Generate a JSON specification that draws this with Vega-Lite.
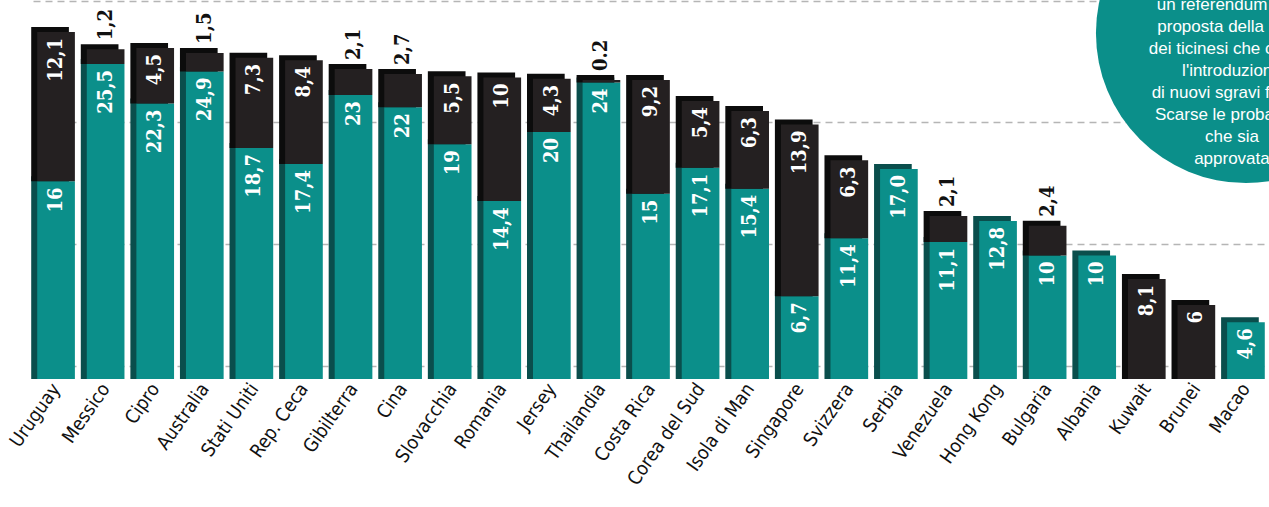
{
  "$schema": "https://vega.github.io/schema/vega-lite/v6.json",
  "width": 1269,
  "height": 378,
  "autosize": "none",
  "padding": {"left": 0, "right": 0, "top": 1, "bottom": 128},
  "background": "white",
  "config": {"view": {"stroke": null}},
  "datasets": {
    "bars": [
      {"country": "Uruguay", "part": "a", "value": 16, "label": "16"},
      {"country": "Uruguay", "part": "b", "value": 12.1, "label": "12,1"},
      {"country": "Messico", "part": "a", "value": 25.5, "label": "25,5"},
      {"country": "Messico", "part": "b", "value": 1.2, "label": "1,2"},
      {"country": "Cipro", "part": "a", "value": 22.3, "label": "22,3"},
      {"country": "Cipro", "part": "b", "value": 4.5, "label": "4,5"},
      {"country": "Australia", "part": "a", "value": 24.9, "label": "24,9"},
      {"country": "Australia", "part": "b", "value": 1.5, "label": "1,5"},
      {"country": "Stati Uniti", "part": "a", "value": 18.7, "label": "18,7"},
      {"country": "Stati Uniti", "part": "b", "value": 7.3, "label": "7,3"},
      {"country": "Rep. Ceca", "part": "a", "value": 17.4, "label": "17,4"},
      {"country": "Rep. Ceca", "part": "b", "value": 8.4, "label": "8,4"},
      {"country": "Gibilterra", "part": "a", "value": 23, "label": "23"},
      {"country": "Gibilterra", "part": "b", "value": 2.1, "label": "2,1"},
      {"country": "Cina", "part": "a", "value": 22, "label": "22"},
      {"country": "Cina", "part": "b", "value": 2.7, "label": "2,7"},
      {"country": "Slovacchia", "part": "a", "value": 19, "label": "19"},
      {"country": "Slovacchia", "part": "b", "value": 5.5, "label": "5,5"},
      {"country": "Romania", "part": "a", "value": 14.4, "label": "14,4"},
      {"country": "Romania", "part": "b", "value": 10, "label": "10"},
      {"country": "Jersey", "part": "a", "value": 20, "label": "20"},
      {"country": "Jersey", "part": "b", "value": 4.3, "label": "4,3"},
      {"country": "Thailandia", "part": "a", "value": 24, "label": "24"},
      {"country": "Thailandia", "part": "b", "value": 0.2, "label": "0.2"},
      {"country": "Costa Rica", "part": "a", "value": 15, "label": "15"},
      {"country": "Costa Rica", "part": "b", "value": 9.2, "label": "9,2"},
      {"country": "Corea del Sud", "part": "a", "value": 17.1, "label": "17,1"},
      {"country": "Corea del Sud", "part": "b", "value": 5.4, "label": "5,4"},
      {"country": "Isola di Man", "part": "a", "value": 15.4, "label": "15,4"},
      {"country": "Isola di Man", "part": "b", "value": 6.3, "label": "6,3"},
      {"country": "Singapore", "part": "a", "value": 6.7, "label": "6,7"},
      {"country": "Singapore", "part": "b", "value": 13.9, "label": "13,9"},
      {"country": "Svizzera", "part": "a", "value": 11.4, "label": "11,4"},
      {"country": "Svizzera", "part": "b", "value": 6.3, "label": "6,3"},
      {"country": "Serbia", "part": "a", "value": 17.0, "label": "17,0"},
      {"country": "Venezuela", "part": "a", "value": 11.1, "label": "11,1"},
      {"country": "Venezuela", "part": "b", "value": 2.1, "label": "2,1"},
      {"country": "Hong Kong", "part": "a", "value": 12.8, "label": "12,8"},
      {"country": "Bulgaria", "part": "a", "value": 10, "label": "10"},
      {"country": "Bulgaria", "part": "b", "value": 2.4, "label": "2,4"},
      {"country": "Albania", "part": "a", "value": 10, "label": "10"},
      {"country": "Kuwait", "part": "b", "value": 8.1, "label": "8,1"},
      {"country": "Brunei", "part": "b", "value": 6, "label": "6"},
      {"country": "Macao", "part": "a", "value": 4.6, "label": "4,6"}
    ],
    "note": [
      {"country": "Macao", "y": 28.0, "text": "un referendum sulla\nproposta della Lega\ndei ticinesi che chiede\nl'introduzione\ndi nuovi sgravi fiscali.\nScarse le probabilità\nche sia\napprovata", "ty": 30.3}
    ]
  },
  "encoding": {
    "x": {
      "field": "country", "type": "nominal",
      "sort": ["Uruguay", "Messico", "Cipro", "Australia", "Stati Uniti", "Rep. Ceca", "Gibilterra", "Cina", "Slovacchia", "Romania", "Jersey", "Thailandia", "Costa Rica", "Corea del Sud", "Isola di Man", "Singapore", "Svizzera", "Serbia", "Venezuela", "Hong Kong", "Bulgaria", "Albania", "Kuwait", "Brunei", "Macao"],
      "scale": {"range": [33, 1269], "paddingInner": 0.24, "paddingOuter": 0.085},
      "axis": {
        "title": null, "domain": false, "ticks": false,
        "labelAngle": -55, "labelAlign": "right", "labelBaseline": "middle",
        "labelFont": "Liberation Sans Narrow, DejaVu Sans Condensed, Roboto", "labelFontSize": 19,
        "labelColor": "#111", "labelPadding": 6
      }
    }
  },
  "layer": [
    {
      "data": {"name": "bars"},
      "transform": [
        {"stack": "value", "groupby": ["country"], "sort": [{"field": "part", "order": "ascending"}], "as": ["y0", "y1"]}
      ],
      "layer": [
        {
          "mark": {"type": "bar", "xOffset": -6, "yOffset": -5},
          "encoding": {
            "y": {"field": "y1", "type": "quantitative", "scale": {"domain": [0, 30.6], "nice": false, "zero": true},
              "axis": {"title": null, "labels": false, "ticks": false, "domain": false, "grid": true,
                "values": [1.05, 10.9, 20.8, 30.6], "gridColor": "#b5b5b5", "gridDash": [7, 5], "gridWidth": 1.5}},
            "y2": {"field": "y0"},
            "color": {"condition": {"test": "datum.part === 'a'", "value": "#0a4e4c"}, "value": "#0c0c0c"}
          }
        },
        {
          "mark": {"type": "bar"},
          "encoding": {
            "y": {"field": "y1", "type": "quantitative"},
            "y2": {"field": "y0"},
            "color": {"field": "part", "type": "nominal", "scale": {"domain": ["a", "b"], "range": ["#0b8f8a", "#242021"]}, "legend": null}
          }
        },
        {
          "transform": [{"filter": "datum.part === 'a' || datum.value >= 3"}],
          "mark": {"type": "text", "angle": 270, "align": "right", "baseline": "middle", "yOffset": 6,
            "font": "DejaVu Serif Condensed, DejaVu Serif", "fontWeight": "bold", "fontSize": 20, "color": "white"},
          "encoding": {
            "y": {"field": "y1", "type": "quantitative"},
            "text": {"field": "label"}
          }
        },
        {
          "transform": [{"filter": "datum.part === 'b' && datum.value < 3"}],
          "mark": {"type": "text", "angle": 270, "align": "left", "baseline": "middle", "yOffset": -9,
            "font": "DejaVu Serif Condensed, DejaVu Serif", "fontWeight": "bold", "fontSize": 20, "color": "#111"},
          "encoding": {
            "y": {"field": "y1", "type": "quantitative"},
            "text": {"field": "label"}
          }
        }
      ]
    },
    {
      "data": {"name": "note"},
      "layer": [
        {
          "mark": {"type": "point", "filled": true, "shape": "circle", "size": 90000, "color": "#0b8f8a", "opacity": 1},
          "encoding": {
            "y": {"field": "y", "type": "quantitative"}
          }
        },
        {
          "mark": {"type": "text", "align": "center", "baseline": "middle", "lineBreak": "\n", "lineHeight": 22,
            "font": "Liberation Sans, Arial", "fontSize": 17, "color": "white", "xOffset": -14},
          "encoding": {
            "y": {"field": "ty", "type": "quantitative"},
            "text": {"field": "text"}
          }
        }
      ]
    }
  ]
}
